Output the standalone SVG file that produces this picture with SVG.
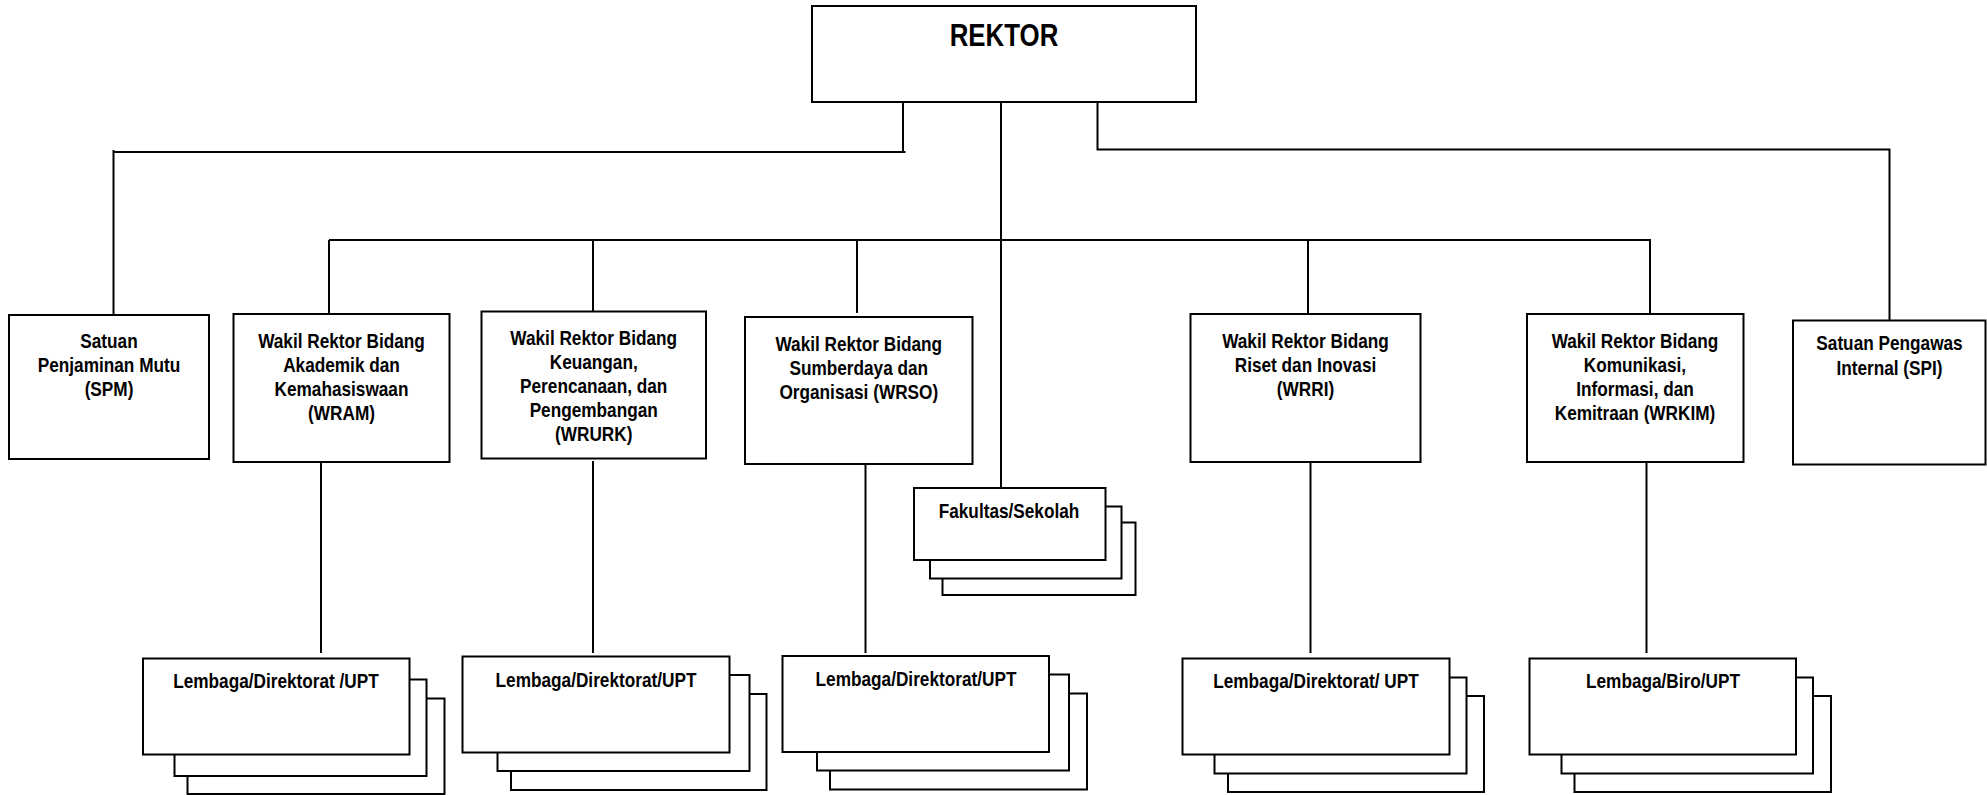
<svg xmlns="http://www.w3.org/2000/svg" width="1987" height="795" viewBox="0 0 1987 795">
<style>
.bg{fill:#fff}
.box{fill:#fff;stroke:#000;stroke-width:2}
.ln{fill:none;stroke:#000;stroke-width:2}
text{font-family:"Liberation Sans",Arial,sans-serif;font-weight:bold;font-size:21px;fill:#000;text-anchor:middle}
.big{font-size:31.5px}
</style>
<rect class="bg" x="0" y="0" width="1987" height="795"/>
<g id="connectors">
<polyline class="ln" points="903,102 903,152"/>
<polyline class="ln" points="905.5,152 113.5,152"/>
<polyline class="ln" points="113.5,150 113.5,318"/>
<polyline class="ln" points="1097.5,102 1097.5,149.5 1889.5,149.5 1889.5,321"/>
<polyline class="ln" points="1001,102 1001,488"/>
<polyline class="ln" points="329,240 1650,240"/>
<polyline class="ln" points="329,240 329,314"/>
<polyline class="ln" points="593,240 593,312"/>
<polyline class="ln" points="857,240 857,313"/>
<polyline class="ln" points="1308,240 1308,314"/>
<polyline class="ln" points="1650,239 1650,313"/>
<polyline class="ln" points="321,462 321,653"/>
<polyline class="ln" points="593,461 593,653"/>
<polyline class="ln" points="865.5,460 865.5,653"/>
<polyline class="ln" points="1310.5,462 1310.5,653"/>
<polyline class="ln" points="1646.5,462 1646.5,653"/>
</g>
<g id="rektor">
<rect class="box" x="812" y="6" width="384" height="96"/>
<text class="big" transform="translate(1004,46) scale(0.82,1)">REKTOR</text>
</g>
<g id="spm">
<rect class="box" x="9" y="315" width="200" height="144"/>
<text transform="translate(109,348) scale(0.82,1)">Satuan</text>
<text transform="translate(109,372) scale(0.82,1)">Penjaminan  Mutu</text>
<text transform="translate(109,396) scale(0.82,1)">(SPM)</text>
</g>
<g id="wram">
<rect class="box" x="233.5" y="314" width="216" height="148"/>
<text transform="translate(341.5,348) scale(0.82,1)">Wakil Rektor Bidang</text>
<text transform="translate(341.5,372) scale(0.82,1)">Akademik dan</text>
<text transform="translate(341.5,396) scale(0.82,1)">Kemahasiswaan</text>
<text transform="translate(341.5,420) scale(0.82,1)">(WRAM)</text>
</g>
<g id="wrurk">
<rect class="box" x="481.5" y="311.5" width="224.5" height="147"/>
<text transform="translate(593.7,345) scale(0.82,1)">Wakil Rektor Bidang</text>
<text transform="translate(593.7,369) scale(0.82,1)">Keuangan,</text>
<text transform="translate(593.7,393) scale(0.82,1)">Perencanaan, dan</text>
<text transform="translate(593.7,417) scale(0.82,1)">Pengembangan</text>
<text transform="translate(593.7,441) scale(0.82,1)">(WRURK)</text>
</g>
<g id="wrso">
<rect class="box" x="745" y="317" width="227.5" height="147"/>
<text transform="translate(858.8,351) scale(0.82,1)">Wakil Rektor Bidang</text>
<text transform="translate(858.8,375) scale(0.82,1)">Sumberdaya dan</text>
<text transform="translate(858.8,399) scale(0.82,1)">Organisasi (WRSO)</text>
</g>
<g id="wrri">
<rect class="box" x="1190.5" y="314" width="230" height="148"/>
<text transform="translate(1305.5,348) scale(0.82,1)">Wakil Rektor Bidang</text>
<text transform="translate(1305.5,372) scale(0.82,1)">Riset dan Inovasi</text>
<text transform="translate(1305.5,396) scale(0.82,1)">(WRRI)</text>
</g>
<g id="wrkim">
<rect class="box" x="1527" y="314" width="216.5" height="148"/>
<text transform="translate(1635,348) scale(0.82,1)">Wakil Rektor Bidang</text>
<text transform="translate(1635,372) scale(0.82,1)">Komunikasi,</text>
<text transform="translate(1635,396) scale(0.82,1)">Informasi, dan</text>
<text transform="translate(1635,420) scale(0.82,1)">Kemitraan (WRKIM)</text>
</g>
<g id="spi">
<rect class="box" x="1793" y="320.5" width="192.5" height="144"/>
<text transform="translate(1889.5,350) scale(0.82,1)">Satuan Pengawas</text>
<text transform="translate(1889.5,375) scale(0.82,1)">Internal (SPI)</text>
</g>
<g id="fakultas">
<rect class="box" x="942.5" y="522.5" width="193" height="72.5"/>
<rect class="box" x="930" y="506.5" width="191.5" height="72"/>
<rect class="box" x="914" y="488" width="191.5" height="72"/>
<text transform="translate(1009,518) scale(0.82,1)">Fakultas/Sekolah</text>
</g>
<g id="lembaga-wram">
<rect class="box" x="187.5" y="698.5" width="257" height="95.5"/>
<rect class="box" x="174.5" y="679.5" width="252" height="96.5"/>
<rect class="box" x="143" y="658.5" width="266.5" height="96"/>
<text transform="translate(276,688) scale(0.82,1)">Lembaga/Direktorat /UPT</text>
</g>
<g id="lembaga-wrurk">
<rect class="box" x="511" y="694" width="255.5" height="96"/>
<rect class="box" x="497.5" y="675" width="252" height="96"/>
<rect class="box" x="462.5" y="656.5" width="267" height="96"/>
<text transform="translate(596,686.5) scale(0.82,1)">Lembaga/Direktorat/UPT</text>
</g>
<g id="lembaga-wrso">
<rect class="box" x="830" y="693.5" width="257" height="96"/>
<rect class="box" x="817" y="674.5" width="252" height="96"/>
<rect class="box" x="782.5" y="656" width="266.5" height="96"/>
<text transform="translate(916,686) scale(0.82,1)">Lembaga/Direktorat/UPT</text>
</g>
<g id="lembaga-wrri">
<rect class="box" x="1228" y="696" width="256" height="96"/>
<rect class="box" x="1214.5" y="677.5" width="252" height="96"/>
<rect class="box" x="1182.5" y="658.5" width="267" height="96"/>
<text transform="translate(1316,688) scale(0.82,1)">Lembaga/Direktorat/ UPT</text>
</g>
<g id="lembaga-wrkim">
<rect class="box" x="1574.5" y="696" width="256.5" height="96"/>
<rect class="box" x="1561.5" y="677.5" width="251.5" height="96"/>
<rect class="box" x="1529.5" y="658.5" width="266.5" height="96"/>
<text transform="translate(1663,688) scale(0.82,1)">Lembaga/Biro/UPT</text>
</g>
</svg>
